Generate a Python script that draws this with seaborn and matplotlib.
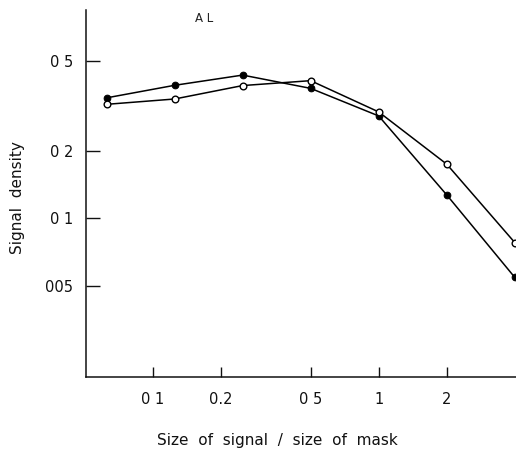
import matplotlib
matplotlib.use("Agg")
import matplotlib.pyplot as plt
import seaborn as sns
import pandas as pd
from matplotlib.ticker import FixedLocator, FixedFormatter, NullLocator

# Data
size_ratio = [0.0625, 0.125, 0.25, 0.5, 1, 2, 4]
density_filled = [0.343, 0.390, 0.433, 0.378, 0.285, 0.127, 0.0546]
density_open = [0.321, 0.339, 0.389, 0.409, 0.297, 0.174, 0.078]

x_ticks = [0.1, 0.2, 0.5, 1, 2]
x_tick_labels = ["0 1", "0.2", "0 5", "1", "2"]
y_ticks = [0.05, 0.1, 0.2, 0.5]
y_tick_labels = ["005", "0 1", "0 2", "0 5"]

sns.set_style("ticks")
plt.rcParams["font.family"] = ["DejaVu Sans"]

W, H = 516, 454
fig = plt.figure(figsize=(W / 100, H / 100), dpi=100)
ax = fig.add_axes([86 / W, 77 / H, 430 / W, 367 / H])

df_f = pd.DataFrame({"x": size_ratio, "y": density_filled})
df_o = pd.DataFrame({"x": size_ratio, "y": density_open})

sns.lineplot(data=df_f, x="x", y="y", ax=ax, color="black", lw=1.1,
             marker="o", markersize=4.8, markerfacecolor="black",
             markeredgecolor="black", clip_on=False)
sns.lineplot(data=df_o, x="x", y="y", ax=ax, color="black", lw=1.1,
             marker="o", markersize=4.8, markerfacecolor="white",
             markeredgecolor="black", markeredgewidth=1.0, clip_on=False)

ax.set_xscale("log")
ax.set_yscale("log")
ax.set_xlim(0.0507, 4.05)
ax.set_ylim(0.0197, 0.843)

ax.xaxis.set_major_locator(FixedLocator(x_ticks))
ax.xaxis.set_major_formatter(FixedFormatter(x_tick_labels))
ax.xaxis.set_minor_locator(NullLocator())
ax.yaxis.set_major_locator(FixedLocator(y_ticks))
ax.yaxis.set_major_formatter(FixedFormatter(y_tick_labels))
ax.yaxis.set_minor_locator(NullLocator())

ax.tick_params(axis="x", direction="in", length=7.5, width=1.0, pad=11,
               labelsize=10.5, colors="#111111")
ax.tick_params(axis="y", direction="in", length=10, width=1.0, pad=9,
               labelsize=10.5, colors="#111111")

for s in ["top", "right"]:
    ax.spines[s].set_visible(False)
for s in ["left", "bottom"]:
    ax.spines[s].set_linewidth(1.1)
    ax.spines[s].set_color("#111111")

ax.set_xlabel("")
ax.set_ylabel("")

fig.text(277 / W, 1 - 440 / H, "Size  of  signal  /  size  of  mask",
         ha="center", va="center", fontsize=11, color="#111111")
fig.text(18 / W, 1 - 198 / H, "Signal  density", rotation=90,
         ha="center", va="center", fontsize=11, color="#111111")
fig.text(204 / W, 1 - 18 / H, "A L", ha="center", va="center",
         fontsize=8.5, color="#222222")

fig.savefig("out.png", dpi=100)
